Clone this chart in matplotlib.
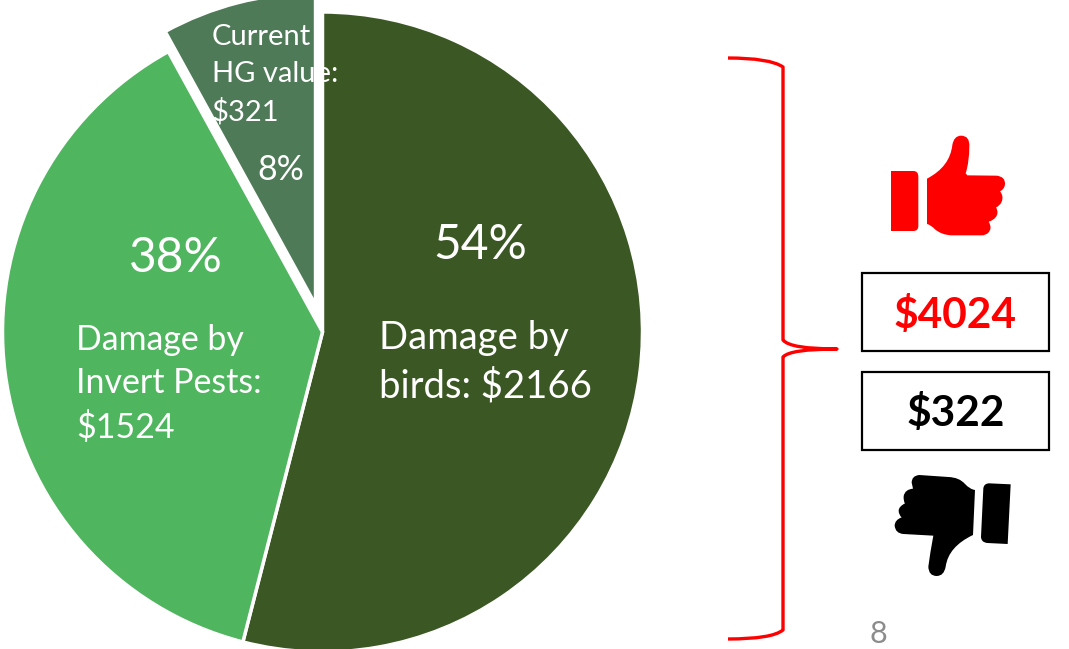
import matplotlib
matplotlib.use("Agg")
import matplotlib.pyplot as plt
from matplotlib.path import Path
from matplotlib.patches import PathPatch, Rectangle

plt.rcParams['font.family'] = ['Lato', 'DejaVu Sans']

H = 649

slice_values = [2166, 1524, 321]
slice_colors = ['#3B5724', '#50B55F', '#4E7A57']
slice_explode = [0, 0, 28]
pct_labels = ['54%', '38%', '8%']
name_labels = ['Damage by\nbirds: $2166', 'Damage by\nInvert Pests:\n$1524', 'Current\nHG value:\n$321']
good_total = '$4024'
bad_total = '$322'
page_no = '8'


def flip(p):
    return (p[0], H - p[1])


def make_path(cmds, ox=0, oy=0, s=1.0):
    # cmds is a list of M/L/Q/Z steps, points in reference pixels
    verts, codes = [], []
    for c in cmds:
        pts = [flip((ox + x / s, oy + y / s)) for x, y in c[1:]]
        if c[0] == 'M':
            codes.append(Path.MOVETO)
        elif c[0] == 'L':
            codes.append(Path.LINETO)
        elif c[0] == 'Q':
            codes += [Path.CURVE3, Path.CURVE3]
        elif c[0] == 'Z':
            codes.append(Path.CLOSEPOLY)
            pts = [verts[0]]
        verts += pts
    return Path(verts, codes)


fig = plt.figure(figsize=(10.69, 6.49), dpi=100)
ax = fig.add_axes([0, 0, 1, 1])

wedges, _ = ax.pie(slice_values, colors=slice_colors, explode=slice_explode, startangle=90,
                   counterclock=False, radius=320, center=(322.5, H - 332),
                   wedgeprops={'edgecolor': 'white', 'linewidth': 2.5})
# the pulled out slice is a bit smaller in the original
wedges[2].set_radius(312)
ax.set_xlim(0, 1069)
ax.set_ylim(0, H)
ax.set_aspect('equal')
ax.axis('off')


def txt(x, y, s, size, color='white', **kw):
    kw.setdefault('ha', 'left')
    kw.setdefault('va', 'center')
    ax.text(x, H - y, s, fontsize=size, color=color, **kw)


txt(433, 245, pct_labels[0], 34.5)
txt(379, 362, name_labels[0], 27.5, linespacing=1.41)
txt(129, 258, pct_labels[1], 34.5)
txt(76, 384, name_labels[1], 24.4, linespacing=1.44)
txt(257, 170, pct_labels[2], 24.5)
txt(212, 75, name_labels[2], 21, linespacing=1.5)

# bracket
bracket = make_path([
    ('M', (728, 58)), ('Q', (770, 58), (783, 67)),
    ('L', (783, 340)), ('Q', (790, 349), (837, 349)),
    ('Q', (790, 349), (783, 357)),
    ('L', (783, 630)), ('Q', (772, 639), (728, 639)),
])
ax.add_patch(PathPatch(bracket, fill=False, edgecolor='#FF0000', lw=2.4, joinstyle='round'))

# value boxes
for top, val, col in [(273, good_total, '#FF0000'), (372, bad_total, 'black')]:
    ax.add_patch(Rectangle((862, H - top - 78), 187, 78, facecolor='white', edgecolor='black', lw=1.6))
    txt(955.5, top + 42, val, 30.5, color=col, ha='center', fontweight='bold')

up_cuff = [('M', (123, 153)), ('L', (190, 153)), ('Q', (205, 153), (205, 170)),
           ('L', (205, 318)), ('Q', (205, 333), (190, 333)), ('L', (123, 333)), ('Z',)]
up_hand = [('M', (231, 176)), ('Q', (300, 140), (307, 75)), ('Q', (312, 47), (333, 47)),
           ('Q', (360, 47), (358, 80)), ('Q', (358, 125), (347, 160)), ('L', (352, 166)),
           ('L', (440, 167)), ('Q', (466, 170), (465, 192)), ('Q', (464, 207), (450, 214)),
           ('Q', (462, 228), (455, 245)), ('Q', (450, 258), (438, 262)),
           ('Q', (448, 280), (436, 293)), ('Q', (428, 302), (416, 305)),
           ('Q', (428, 325), (415, 338)), ('Q', (408, 346), (395, 346)),
           ('L', (305, 346)), ('Q', (275, 345), (255, 328)), ('Q', (243, 315), (231, 312)), ('Z',)]
for cmds in (up_cuff, up_hand):
    ax.add_patch(PathPatch(make_path(cmds, 850, 120, 3), facecolor='#FF0000', edgecolor='none'))

# thumb down
down_cuff = [('M', (418, 370)), ('L', (482, 373)), ('L', (473, 552)), ('L', (412, 549)),
             ('Q', (393, 547), (393, 530)), ('L', (400, 385)), ('Q', (402, 370), (418, 370)), ('Z',)]
down_hand = [('M', (375, 390)), ('Q', (360, 388), (345, 372)), ('Q', (328, 352), (295, 351)),
             ('L', (208, 345)), ('Q', (185, 347), (185, 368)), ('L', (189, 386)),
             ('Q', (165, 388), (161, 408)), ('Q', (160, 425), (165, 430)),
             ('Q', (146, 440), (146, 452)), ('Q', (146, 465), (155, 472)),
             ('Q', (134, 480), (134, 497)), ('Q', (136, 520), (160, 522)),
             ('L', (250, 527)), ('Q', (240, 580), (235, 620)), ('Q', (236, 648), (260, 648)),
             ('Q', (282, 648), (287, 620)), ('Q', (295, 560), (369, 525)), ('Z',)]
for cmds in (down_cuff, down_hand):
    ax.add_patch(PathPatch(make_path(cmds, 850, 360, 3), facecolor='black', edgecolor='none'))

txt(878, 634, page_no, 22, color='#8C8C8C', ha='center')

fig.savefig('out.png', dpi=100)
